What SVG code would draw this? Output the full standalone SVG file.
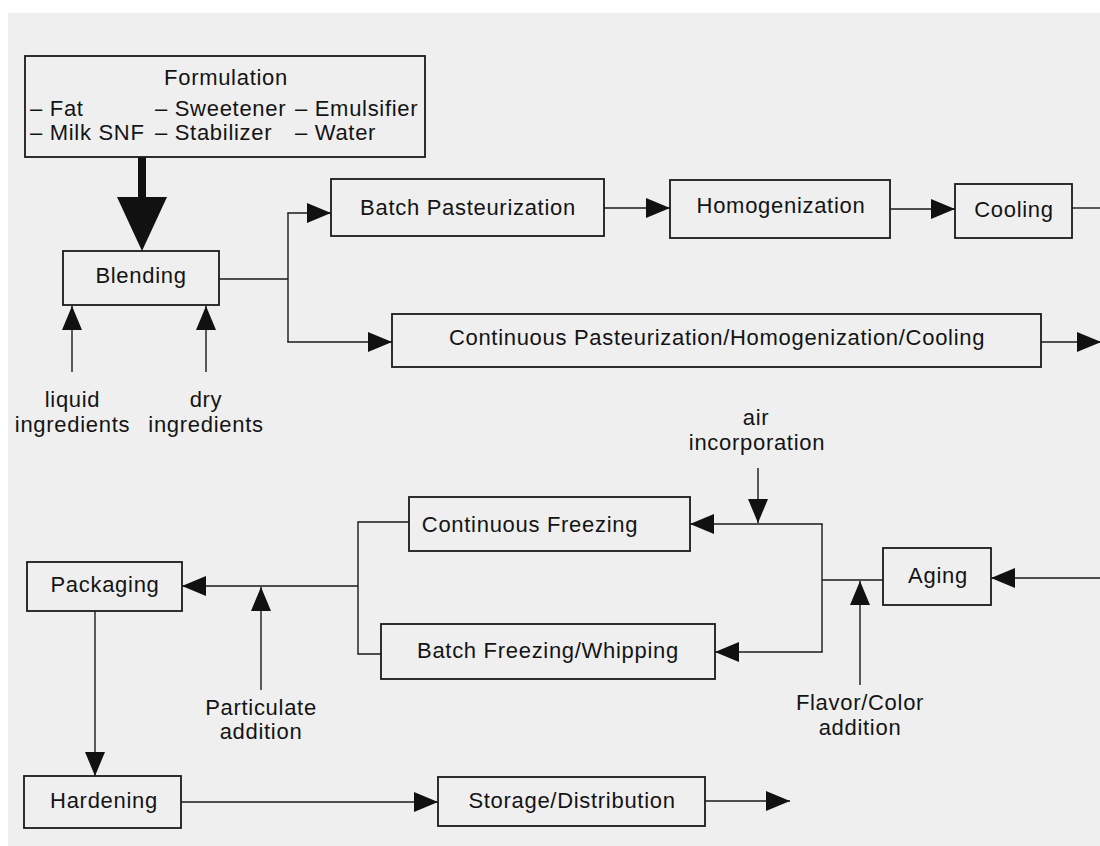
<svg xmlns="http://www.w3.org/2000/svg" width="1100" height="846" viewBox="0 0 1100 846">
<style>
.box{fill:#efefef;stroke:#1a1a1a;stroke-width:1.8}
.ln{fill:none;stroke:#1a1a1a;stroke-width:1.4}
.ar{fill:none;stroke:#1a1a1a;stroke-width:1.4;marker-end:url(#ah)}
text{font-family:"Liberation Sans",Arial,Helvetica,sans-serif;font-size:22px;fill:#141414;letter-spacing:0.7px}
.c{text-anchor:middle}
</style>
<defs>
<marker id="ah" markerUnits="userSpaceOnUse" markerWidth="24" markerHeight="20" refX="24" refY="10" orient="auto" viewBox="0 0 24 20">
<path d="M0,0 L24,10 L0,20 Z" fill="#111"/>
</marker>
</defs>
<rect x="0" y="0" width="1100" height="846" fill="#ffffff"/>
<rect x="8" y="13" width="1092" height="833" fill="#efefef"/>

<g id="connectors">
<rect x="138" y="157" width="8" height="42" fill="#111"/>
<polygon points="117,197 167,197 142,251" fill="#111"/>
<line class="ar" x1="72" y1="372" x2="72" y2="306"/>
<line class="ar" x1="206" y1="372" x2="206" y2="306"/>
<line class="ln" x1="219" y1="279" x2="288" y2="279"/>
<line class="ln" x1="288" y1="213" x2="288" y2="342"/>
<line class="ar" x1="287.3" y1="213" x2="331" y2="213"/>
<line class="ar" x1="287.3" y1="342" x2="392" y2="342"/>
<line class="ar" x1="604" y1="208" x2="670" y2="208"/>
<line class="ar" x1="890" y1="209" x2="955" y2="209"/>
<line class="ln" x1="1072" y1="208" x2="1100" y2="208"/>
<line class="ar" x1="1041" y1="342" x2="1101" y2="342"/>
<line class="ar" x1="1100" y1="578" x2="991" y2="578"/>
<line class="ln" x1="883" y1="580" x2="822" y2="580"/>
<line class="ln" x1="822" y1="524" x2="822" y2="652"/>
<line class="ar" x1="822.7" y1="524" x2="690" y2="524"/>
<line class="ar" x1="822.7" y1="652" x2="715" y2="652"/>
<line class="ar" x1="758" y1="468" x2="758" y2="523"/>
<line class="ar" x1="860" y1="685" x2="860" y2="581"/>
<polyline class="ln" points="409,522 358,522 358,654 381,654"/>
<line class="ar" x1="358" y1="586" x2="182" y2="586"/>
<line class="ar" x1="261" y1="690" x2="261" y2="587"/>
<line class="ar" x1="95" y1="611" x2="95" y2="776"/>
<line class="ar" x1="181" y1="802" x2="438" y2="802"/>
<line class="ar" x1="705" y1="801" x2="790" y2="801"/>
</g>

<g id="formulation">
<rect class="box" x="25" y="56" width="400" height="101"/>
<text class="c" x="226" y="85">Formulation</text>
<text x="30" y="116">– Fat</text>
<text x="155" y="116">– Sweetener</text>
<text x="295" y="116">– Emulsifier</text>
<text x="30" y="140">– Milk SNF</text>
<text x="155" y="140">– Stabilizer</text>
<text x="295" y="140">– Water</text>
</g>
<g id="blending">
<rect class="box" x="63" y="251" width="156" height="54"/>
<text class="c" x="141" y="283">Blending</text>
</g>
<g id="liquid">
<text class="c" x="72.5" y="407">liquid</text>
<text class="c" x="72.5" y="432">ingredients</text>
</g>
<g id="dry">
<text class="c" x="206" y="407">dry</text>
<text class="c" x="206" y="432">ingredients</text>
</g>
<g id="batch-pasteurization">
<rect class="box" x="331" y="179" width="273" height="57"/>
<text class="c" x="468" y="215">Batch Pasteurization</text>
</g>
<g id="homogenization">
<rect class="box" x="670" y="180" width="220" height="58"/>
<text class="c" x="781" y="213">Homogenization</text>
</g>
<g id="cooling">
<rect class="box" x="955" y="184" width="117" height="54"/>
<text class="c" x="1014" y="217">Cooling</text>
</g>
<g id="continuous-pasteurization">
<rect class="box" x="392" y="314" width="649" height="53"/>
<text class="c" x="717" y="345">Continuous Pasteurization/Homogenization/Cooling</text>
</g>
<g id="air">
<text class="c" x="756" y="425">air</text>
<text class="c" x="757" y="450">incorporation</text>
</g>
<g id="continuous-freezing">
<rect class="box" x="409" y="497" width="281" height="54"/>
<text class="c" x="530" y="532">Continuous Freezing</text>
</g>
<g id="batch-freezing">
<rect class="box" x="381" y="624" width="334" height="55"/>
<text class="c" x="548" y="658">Batch Freezing/Whipping</text>
</g>
<g id="aging">
<rect class="box" x="883" y="548" width="108" height="57"/>
<text class="c" x="938" y="583">Aging</text>
</g>
<g id="flavor">
<text class="c" x="860" y="710">Flavor/Color</text>
<text class="c" x="860" y="735">addition</text>
</g>
<g id="packaging">
<rect class="box" x="27" y="562" width="155" height="49"/>
<text class="c" x="105" y="592">Packaging</text>
</g>
<g id="particulate">
<text class="c" x="261" y="715">Particulate</text>
<text class="c" x="261" y="739">addition</text>
</g>
<g id="hardening">
<rect class="box" x="24" y="776" width="157" height="52"/>
<text class="c" x="104" y="808">Hardening</text>
</g>
<g id="storage">
<rect class="box" x="438" y="777" width="267" height="49"/>
<text class="c" x="572" y="808">Storage/Distribution</text>
</g>
</svg>
